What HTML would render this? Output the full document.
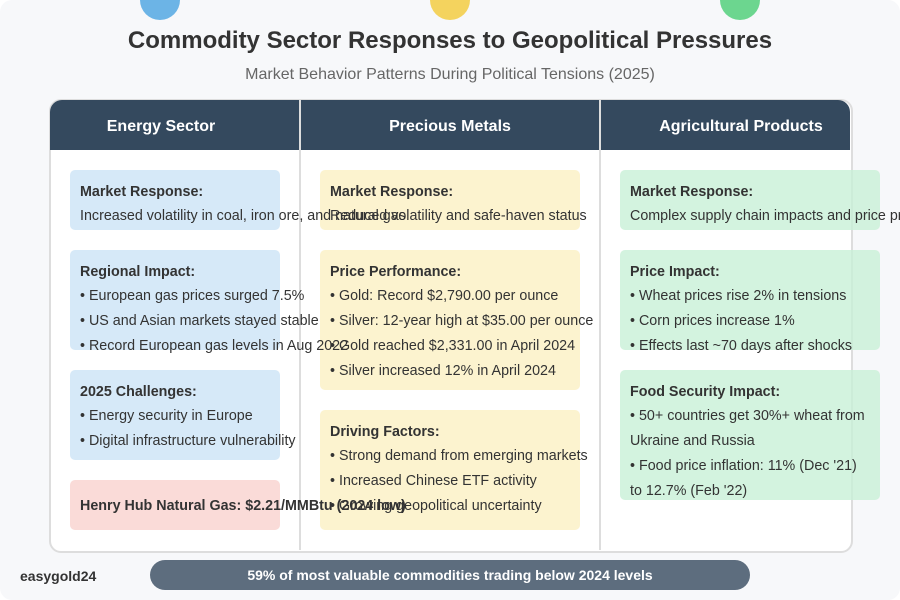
<!DOCTYPE html>
<html><head><style>
body{margin:0;width:900px;height:600px;background:#fff;font-family:"Liberation Sans",sans-serif;overflow:hidden;position:relative}
#wrap{position:absolute;left:0;top:0;width:900px;height:600px;overflow:hidden}
#bg{position:absolute;left:0;top:0;width:900px;height:600px;background:#f7f8fa;border-radius:12px;overflow:hidden}
.c{position:absolute;width:40px;height:40px;border-radius:50%;top:-20px}
h1{position:absolute;top:27px;left:0;width:900px;text-align:center;margin:0;font-size:24px;color:#333;font-weight:bold}
.sub{position:absolute;top:66px;width:900px;text-align:center;font-size:16px;color:#666}
#tbl{position:absolute;left:49px;top:99px;width:800px;height:450px;border:2px solid #ddd;border-radius:12px;background:#fff}
#hd{position:absolute;left:50px;top:100px;width:800px;height:50px;background:#34495e;border-radius:12px 12px 0 0}
.ht{position:absolute;top:118px;color:#fff;font-weight:bold;font-size:16px;text-align:center;width:250px}
.vl{position:absolute;top:100px;width:2px;height:450px;background:#ddd}
.b{position:absolute;border-radius:5px;padding:10px 10px 8px;box-sizing:border-box;font-size:14.3px;color:#333;line-height:25px;white-space:nowrap}
.b b{display:block;line-height:20px;margin-bottom:2px;margin-top:2px}
.bl{background:#d6e9f8}.y{background:#fcf3cf}.g{background:rgba(200,240,215,.8)}.r{background:#fadbd8}
.t{background:transparent}
.ft{position:absolute;left:150px;top:560px;width:600px;height:30px;background:#5d6d7e;border-radius:15px;color:#fff;font-weight:bold;font-size:14px;text-align:center;line-height:30px}
</style></head><body><div id="wrap">
<div id="bg"></div>
<div class="c" style="left:140px;background:#6cb4e6"></div>
<div class="c" style="left:430px;background:#f4d35e"></div>
<div class="c" style="left:720px;background:#6cd68f"></div>
<h1>Commodity Sector Responses to Geopolitical Pressures</h1>
<div class="sub">Market Behavior Patterns During Political Tensions (2025)</div>
<div id="tbl"></div>
<div id="hd"></div>
<div class="vl" style="left:299px"></div><div class="vl" style="left:599px"></div>
<div class="ht" style="left:36px">Energy Sector</div>
<div class="ht" style="left:325px">Precious Metals</div>
<div class="ht" style="left:616px">Agricultural Products</div>

<div class="b bl" style="left:70px;top:170px;width:210px;height:60px"></div>
<div class="b bl" style="left:70px;top:250px;width:210px;height:100px"></div>
<div class="b bl" style="left:70px;top:370px;width:210px;height:90px"></div>
<div class="b r" style="left:70px;top:480px;width:210px;height:50px"></div>

<div class="b y" style="left:320px;top:170px;width:260px;height:60px"><b>Market Response:</b>Reduced volatility and safe-haven status</div>
<div class="b y" style="left:320px;top:250px;width:260px;height:140px"><b>Price Performance:</b>• Gold: Record $2,790.00 per ounce<br>• Silver: 12-year high at $35.00 per ounce<br>• Gold reached $2,331.00 in April 2024<br>• Silver increased 12% in April 2024</div>
<div class="b y" style="left:320px;top:410px;width:260px;height:120px"><b>Driving Factors:</b>• Strong demand from emerging markets<br>• Increased Chinese ETF activity<br>• Growing geopolitical uncertainty</div>

<div class="b t" style="left:70px;top:170px;width:210px;height:60px"><b>Market Response:</b>Increased volatility in coal, iron ore, and natural gas</div>
<div class="b t" style="left:70px;top:250px;width:210px;height:100px"><b>Regional Impact:</b>• European gas prices surged 7.5%<br>• US and Asian markets stayed stable<br>• Record European gas levels in Aug 2022</div>
<div class="b t" style="left:70px;top:370px;width:210px;height:90px"><b>2025 Challenges:</b>• Energy security in Europe<br>• Digital infrastructure vulnerability</div>
<div class="b t" style="left:70px;top:480px;width:210px;height:50px;padding-top:14px"><b>Henry Hub Natural Gas: $2.21/MMBtu (2024 low)</b></div>

<div class="b g" style="left:620px;top:170px;width:260px;height:60px"><b>Market Response:</b>Complex supply chain impacts and price pressures</div>
<div class="b g" style="left:620px;top:250px;width:260px;height:100px"><b>Price Impact:</b>• Wheat prices rise 2% in tensions<br>• Corn prices increase 1%<br>• Effects last ~70 days after shocks</div>
<div class="b g" style="left:620px;top:370px;width:260px;height:130px"><b>Food Security Impact:</b>• 50+ countries get 30%+ wheat from<br>Ukraine and Russia<br>• Food price inflation: 11% (Dec '21)<br>to 12.7% (Feb '22)</div>

<div style="position:absolute;left:20px;top:568px;font-weight:bold;font-size:14px;color:#333">easygold24</div>
<div class="ft">59% of most valuable commodities trading below 2024 levels</div>
</div></body></html>
